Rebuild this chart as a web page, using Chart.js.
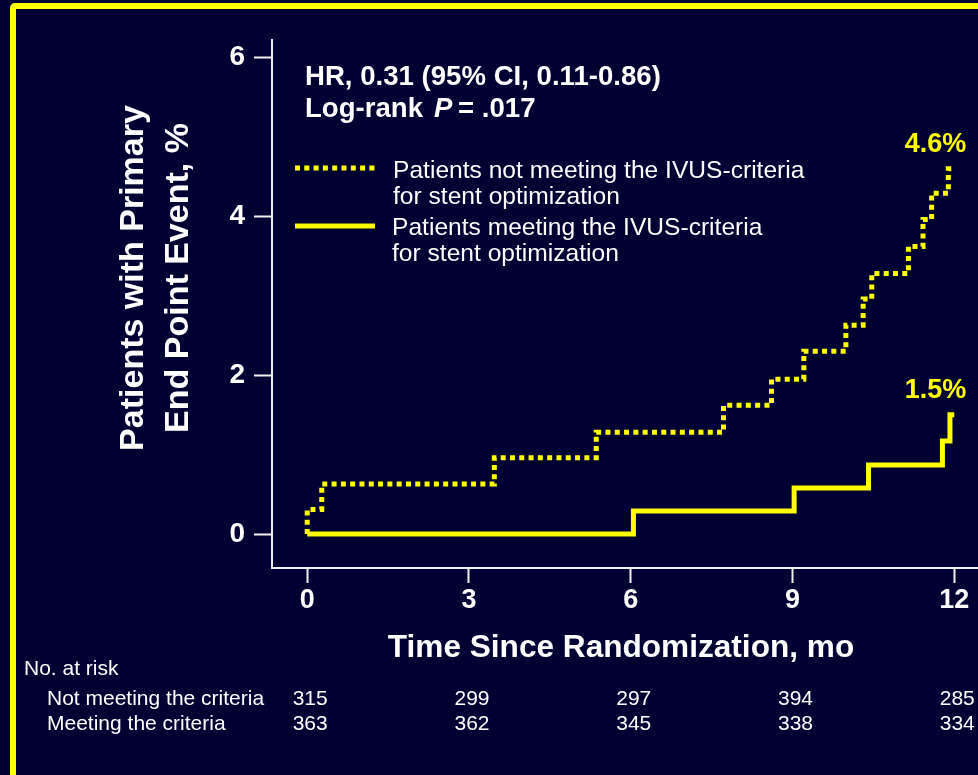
<!DOCTYPE html>
<html>
<head>
<meta charset="utf-8">
<script src="https://cdn.jsdelivr.net/npm/chart.js@4.4.1/dist/chart.umd.min.js"></script>
<style>
  html, body { margin: 0; padding: 0; background: #000033; overflow: hidden; }
  #wrap { position: relative; width: 978px; height: 775px; overflow: hidden; }
  #frame { position: absolute; left: 10px; top: 3px; width: 1100px; height: 1100px;
           border: 6px solid #ffff00; border-radius: 5px; box-sizing: border-box; }
  canvas { position: absolute; left: 0; top: 0; }
</style>
</head>
<body>
<div id="wrap">
  <div id="frame"></div>
  <canvas id="km" width="978" height="775"></canvas>
</div>
<script>
// Axis ticks
const monthTicks = [0, 3, 6, 9, 12];
const pctTicks = [0, 2, 4, 6];

// Cumulative incidence of the primary end point (%), at each event time (months)
const notMeetTimes = [0, 0, 0.27, 3.47, 5.36, 7.72, 8.61, 9.21, 9.99, 10.31, 10.47, 11.15, 11.42, 11.58, 11.89, 12];
const notMeetPct   = [0, 0.31, 0.63, 0.96, 1.28, 1.62, 1.95, 2.30, 2.63, 2.96, 3.28, 3.62, 3.96, 4.29, 4.6, 4.6];
const meetTimes = [0, 6.05, 9.03, 10.41, 11.78, 11.92, 12];
const meetPct   = [0, 0.29, 0.58, 0.87, 1.17, 1.5, 1.5];

// Numbers at risk at each tick month
const atRiskNotMeet = [315, 299, 297, 394, 285];
const atRiskMeet    = [363, 362, 345, 338, 334];

const seriesLabels = [
  ['Patients not meeting the IVUS-criteria', 'for stent optimization'],
  ['Patients meeting the IVUS-criteria', 'for stent optimization']
];
const riskRowLabels = ['Not meeting the criteria', 'Meeting the criteria'];

const FAMILY = '"Liberation Sans", Arial, Helvetica, sans-serif';
const YELLOW = '#ffff00';
const WHITE = '#ffffff';
const AXIS = '#f2f2f2';

Chart.defaults.font.family = FAMILY;

const toPoints = (ts, vs) => ts.map((t, i) => ({ x: t, y: vs[i] }));

const textPlugin = {
  id: 'kmText',
  afterDraw(chart) {
    const { ctx, scales: { x, y } } = chart;
    ctx.save();
    ctx.textBaseline = 'alphabetic';

    // Statistics
    ctx.fillStyle = WHITE;
    ctx.textAlign = 'left';
    ctx.font = 'bold 27.6px ' + FAMILY;
    ctx.fillText('HR, 0.31 (95% CI, 0.11-0.86)', 305, 85);
    ctx.fillText('Log-rank', 305, 117);
    ctx.font = 'italic bold 27.6px ' + FAMILY;
    ctx.fillText('P', 434, 117);
    ctx.font = 'bold 27.6px ' + FAMILY;
    ctx.fillText('= .017', 458, 117);

    // Legend
    const ds = chart.data.datasets;
    const legendRows = [{ y: 168, tx: 393, b: [178, 204] }, { y: 226, tx: 392, b: [235, 261] }];
    legendRows.forEach((row, i) => {
      const d = ds[i];
      ctx.save();
      ctx.strokeStyle = d.borderColor;
      ctx.lineWidth = d.borderWidth;
      ctx.setLineDash(d.borderDash || []);
      ctx.beginPath();
      ctx.moveTo(295, row.y);
      ctx.lineTo(375, row.y);
      ctx.stroke();
      ctx.restore();
      ctx.fillStyle = WHITE;
      ctx.font = '24.6px ' + FAMILY;
      ctx.fillText(seriesLabels[i][0], row.tx, row.b[0]);
      ctx.fillText(seriesLabels[i][1], row.tx, row.b[1]);
    });

    // End-of-follow-up percentages
    ctx.fillStyle = YELLOW;
    ctx.font = 'bold 27px ' + FAMILY;
    ctx.textAlign = 'right';
    ds.forEach(d => {
      const last = d.data[d.data.length - 1];
      const px = x.getPixelForValue(last.x);
      const py = y.getPixelForValue(last.y);
      ctx.fillText(last.y.toFixed(1) + '%', px + 12, py - 17);
    });

    // Y-axis title
    ctx.fillStyle = WHITE;
    ctx.textAlign = 'center';
    ctx.font = 'bold 34px ' + FAMILY;
    ctx.save();
    ctx.translate(143, 278);
    ctx.rotate(-Math.PI / 2);
    ctx.fillText('Patients with Primary', 0, 0);
    ctx.fillText('End Point Event, %', 0, 45);
    ctx.restore();

    // X-axis title
    ctx.font = 'bold 31.6px ' + FAMILY;
    ctx.fillText('Time Since Randomization, mo', 621, 657);

    // Numbers at risk
    ctx.textAlign = 'left';
    ctx.font = '21px ' + FAMILY;
    ctx.fillText('No. at risk', 24, 675);
    ctx.fillText(riskRowLabels[0], 47, 705);
    ctx.fillText(riskRowLabels[1], 47, 730);
    ctx.textAlign = 'center';
    monthTicks.forEach((m, i) => {
      const px = x.getPixelForValue(m) + 3;
      ctx.fillText(String(atRiskNotMeet[i]), px, 705);
      ctx.fillText(String(atRiskMeet[i]), px, 730);
    });

    ctx.restore();
  }
};

new Chart(document.getElementById('km'), {
  type: 'line',
  data: {
    datasets: [
      {
        label: seriesLabels[0].join(' '),
        data: toPoints(notMeetTimes, notMeetPct),
        borderColor: YELLOW,
        borderWidth: 5,
        borderDash: [5, 4.3],
        borderCapStyle: 'butt',
        stepped: 'before',
        pointRadius: 0,
        fill: false
      },
      {
        label: seriesLabels[1].join(' '),
        data: toPoints(meetTimes, meetPct),
        borderColor: YELLOW,
        borderWidth: 5,
        borderJoinStyle: 'miter',
        stepped: 'before',
        pointRadius: 0,
        fill: false
      }
    ]
  },
  options: {
    responsive: false,
    animation: false,
    devicePixelRatio: 1,
    layout: { padding: { left: 172, top: 40, right: 0, bottom: 147 } },
    plugins: { legend: { display: false }, tooltip: { enabled: false } },
    scales: {
      x: {
        type: 'linear',
        min: -0.653,
        max: 12.44,
        afterBuildTicks: s => { s.ticks = monthTicks.map(v => ({ value: v })); },
        afterFit: s => { s.height = 60; },
        grid: { drawOnChartArea: false, drawTicks: true, tickLength: 15, tickColor: AXIS, tickWidth: 2 },
        border: { display: true, color: AXIS, width: 2 },
        ticks: { color: WHITE, padding: 1, maxRotation: 0, font: { size: 27, weight: 'bold' } }
      },
      y: {
        type: 'linear',
        min: -0.428,
        max: 6.22,
        afterBuildTicks: s => { s.ticks = pctTicks.map(v => ({ value: v })); },
        afterFit: s => { s.width = 100; },
        grid: { drawOnChartArea: false, drawTicks: true, tickLength: 18, tickColor: AXIS, tickWidth: 2 },
        border: { display: true, color: AXIS, width: 2 },
        ticks: { color: WHITE, padding: 9, font: { size: 28, weight: 'bold' } }
      }
    }
  },
  plugins: [textPlugin]
});
</script>
</body>
</html>
